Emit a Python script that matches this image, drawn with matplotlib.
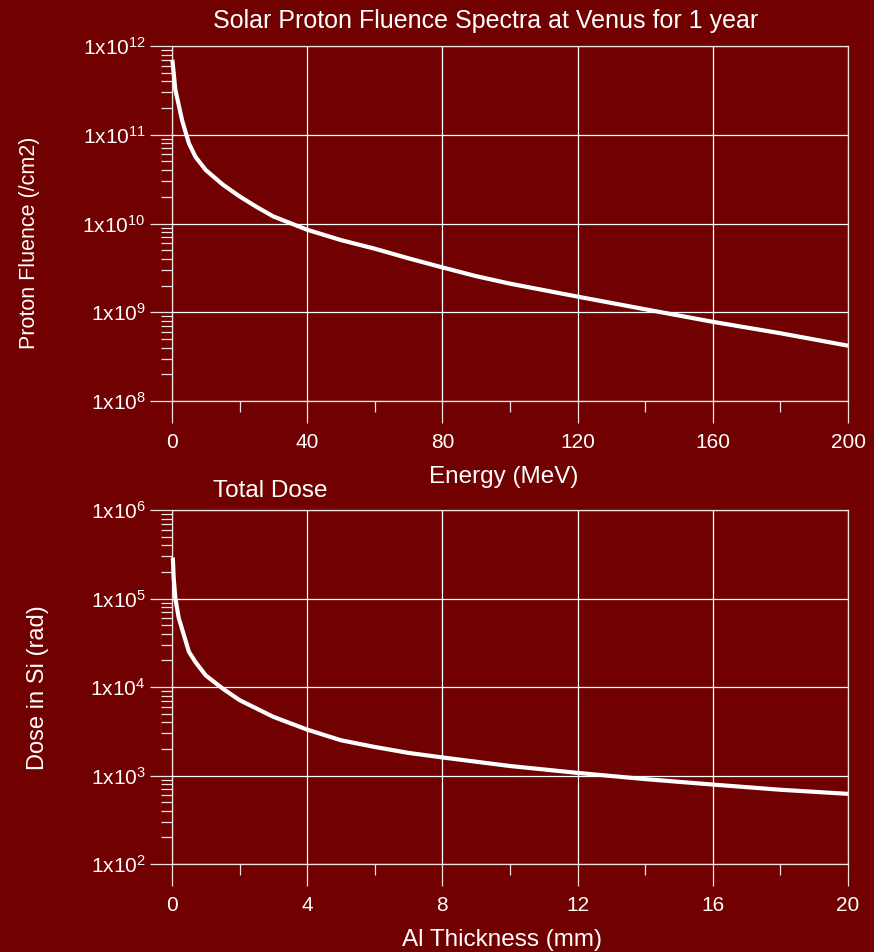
import matplotlib
matplotlib.use("Agg")
import matplotlib.pyplot as plt
from matplotlib.ticker import FixedLocator, FixedFormatter, LogLocator, NullFormatter, MultipleLocator

plt.rcParams['font.family'] = ['Liberation Sans', 'DejaVu Sans']
plt.rcParams['mathtext.fontset'] = 'custom'
plt.rcParams['mathtext.rm'] = 'Liberation Sans'
plt.rcParams['mathtext.it'] = 'Liberation Sans:italic'
plt.rcParams['mathtext.bf'] = 'Liberation Sans:bold'

# Solar proton fluence spectrum at Venus, 1 year
energy_mev = [0.1, 1, 3, 5, 7, 10, 15, 20, 25, 30, 40, 50, 60, 70, 80, 90,
              100, 120, 140, 160, 180, 200]
fluence_cm2 = [7.0e11, 3.2e11, 1.45e11, 8.0e10, 5.6e10, 4.0e10, 2.75e10,
               2.02e10, 1.54e10, 1.2e10, 8.5e9, 6.5e9, 5.2e9, 4.05e9, 3.2e9,
               2.55e9, 2.1e9, 1.5e9, 1.08e9, 7.8e8, 5.8e8, 4.2e8]

# Total dose in Si behind Al shielding
al_thickness_mm = [0.025, 0.05, 0.1, 0.2, 0.3, 0.5, 0.7, 1.0, 1.5, 2, 3, 4, 5,
                   6, 7, 8, 10, 12, 14, 16, 18, 20]
dose_rad = [2.9e5, 1.7e5, 1.0e5, 6.0e4, 4.5e4, 2.5e4, 1.9e4, 1.35e4, 9.6e3,
            7.1e3, 4.6e3, 3.3e3, 2.5e3, 2.1e3, 1.8e3, 1.6e3, 1.28e3, 1.07e3,
            9.1e2, 7.9e2, 6.9e2, 6.2e2]

fluence_decades = [8, 9, 10, 11, 12]
dose_decades = [2, 3, 4, 5, 6]
energy_ticks = [0, 40, 80, 120, 160, 200]
thickness_ticks = [0, 4, 8, 12, 16, 20]

BG = '#710000'
FG = 'white'
W, H = 874, 952

fig = plt.figure(figsize=(W / 100, H / 100), dpi=100, facecolor=BG)
ax1 = fig.add_axes([172 / W, 1 - 401 / H, 676 / W, 355 / H])
ax2 = fig.add_axes([172 / W, 1 - 864 / H, 676 / W, 354 / H])


def style_axes(ax, xticks, xminor, decades):
    ax.set_facecolor(BG)
    ax.set_yscale('log')
    ax.set_xlim(xticks[0], xticks[-1])
    ax.set_ylim(10.0 ** decades[0], 10.0 ** decades[-1])
    for s in ax.spines.values():
        s.set_color('#f2e4e4')
        s.set_linewidth(0.9)
    ax.xaxis.set_major_locator(FixedLocator(xticks))
    ax.xaxis.set_minor_locator(MultipleLocator(xminor))
    ax.yaxis.set_major_locator(FixedLocator([10.0 ** d for d in decades]))
    ax.yaxis.set_major_formatter(
        FixedFormatter([r'1x10$^{%d}$' % d for d in decades]))
    ax.yaxis.set_minor_locator(LogLocator(base=10, subs=range(2, 10), numticks=20))
    ax.yaxis.set_minor_formatter(NullFormatter())
    ax.grid(True, which='major', color=FG, linewidth=0.9)
    ax.tick_params(which='major', direction='out', length=16, width=0.9,
                   color='#f2e4e4', labelcolor=FG, labelsize=15, pad=3)
    ax.tick_params(axis='x', which='major', pad=7)
    ax.tick_params(which='minor', direction='out', length=8, width=0.9,
                   color='#f2e4e4')
    ax.set_axisbelow(True)


style_axes(ax1, energy_ticks, 20, fluence_decades)
style_axes(ax2, thickness_ticks, 2, dose_decades)

ax1.plot(energy_mev, fluence_cm2, color=FG, linewidth=3, solid_capstyle='butt',
         zorder=3, clip_on=False)
ax2.plot(al_thickness_mm, dose_rad, color=FG, linewidth=3, solid_capstyle='butt',
         zorder=3, clip_on=False)


def ftext(x, y, s, **kw):
    fig.text(x / W, 1 - y / H, s, color=FG, ha='center', va='center', **kw)


ftext(486, 21, 'Solar Proton Fluence Spectra at Venus for 1 year', fontsize=18)
ftext(504, 477, 'Energy (MeV)', fontsize=17.5)
ftext(30, 243, 'Proton Fluence (/cm2)', fontsize=15.5, rotation=90)
ftext(270, 491, 'Total Dose', fontsize=17.5)
ftext(502, 940, 'Al Thickness (mm)', fontsize=17.5)
ftext(38, 688, 'Dose in Si (rad)', fontsize=17, rotation=90)

fig.savefig('out.png', dpi=100, facecolor=BG)
